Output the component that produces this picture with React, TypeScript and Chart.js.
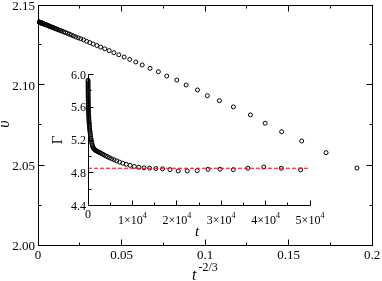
import React, { useEffect, useRef } from "react";
import { Chart, registerables } from "chart.js";
Chart.register(...registerables);

const W = 382;
const H = 281;
const SERIF = '"Liberation Serif", "DejaVu Serif", "Times New Roman", serif';

// ---- main panel: v versus t^(-2/3)
const mainX = [
  0.191, 0.1725, 0.1579, 0.1459, 0.136, 0.1272, 0.117, 0.1086, 0.1014, 0.0955, 0.0887, 0.0831, 0.0771, 0.0721, 0.0671, 0.0624,
  0.05856, 0.05495, 0.05157, 0.04839, 0.04541, 0.04262, 0.03999, 0.03753, 0.03522, 0.03305, 0.03102, 0.02911, 0.02731, 0.02563,
  0.02405, 0.02257, 0.02118, 0.01988, 0.01866, 0.01751, 0.01643, 0.01542, 0.01447, 0.01358, 0.01274, 0.01196, 0.01122, 0.01053,
  0.00988, 0.00927, 0.0087, 0.00817, 0.00766, 0.00719, 0.00675, 0.00633, 0.00594, 0.00558, 0.00523, 0.00491, 0.00461, 0.00432,
  0.00406, 0.00381, 0.00357, 0.00335, 0.00315, 0.00295, 0.00277, 0.0026, 0.00244, 0.00229, 0.00215, 0.00202, 0.00189, 0.00178,
  0.00167, 0.00156, 0.00147, 0.00138, 0.00129, 0.00121, 0.00114, 0.00107, 0.001, 0.00094, 0.00088, 0.00083, 0.00078,
];
const mainV = [
  2.0481, 2.0577, 2.065, 2.0708, 2.0761, 2.0813, 2.0863, 2.0902, 2.0933, 2.0969, 2.1, 2.1031, 2.1056, 2.1083, 2.1104, 2.1125,
  2.1144, 2.116, 2.1175, 2.1189, 2.1202, 2.1215, 2.1226, 2.1237, 2.1247, 2.1256, 2.1265, 2.1273, 2.1282, 2.1289,
  2.1295, 2.1301, 2.1307, 2.1313, 2.1318, 2.1323, 2.1328, 2.1332, 2.1336, 2.134, 2.1343, 2.1346, 2.135, 2.1352,
  2.1355, 2.1358, 2.136, 2.1362, 2.1364, 2.1366, 2.1368, 2.137, 2.1372, 2.1373, 2.1375, 2.1376, 2.1377, 2.1378,
  2.1379, 2.138, 2.1381, 2.1382, 2.1383, 2.1384, 2.1385, 2.1385, 2.1386, 2.1387, 2.1387, 2.1388, 2.1388, 2.1389,
  2.1389, 2.139, 2.139, 2.139, 2.1391, 2.1391, 2.1391, 2.1392, 2.1392, 2.1392, 2.1392, 2.1393, 2.1393,
];
const mainXTicks = [0, 0.05, 0.1, 0.15, 0.2];
const mainXTickLabels = ["0", "0.05", "0.1", "0.15", "0.2"];
const mainXMinor = [0.025, 0.075, 0.125, 0.175];
const mainYTicks = [2.0, 2.05, 2.1, 2.15];
const mainYTickLabels = ["2.00", "2.05", "2.10", "2.15"];
const mainYMinor = [2.025, 2.075, 2.125];
const mainYTitle = "υ";
const mainXTitleBase = "t";
const mainXTitleExp = "-2/3";

// ---- inset: Gamma versus t
const insetT = [
  12, 14, 16, 18, 20, 22, 25, 28, 31, 34, 38, 42, 47, 52, 57, 64,
  73, 81, 89, 98, 108, 118, 130, 143, 157, 173, 190, 209, 230, 253, 279, 307, 337, 371, 408, 449, 494,
  543, 597, 657, 723, 795, 875, 962, 1059, 1165, 1281, 1409, 1550, 1705, 1875, 2063, 2269, 2496, 2745, 3020,
  3322, 3654, 4019, 4421, 4864, 5350, 5885, 6473, 7121, 7833, 8616, 9478, 10425, 11467, 12614, 13876, 15263,
  16789, 18468, 20315, 22346, 24581, 27039, 29743, 32717, 35988, 39587, 43545, 47900,
];
const insetGamma = [
  5.93, 5.912, 5.894, 5.876, 5.858, 5.84, 5.822, 5.804, 5.786, 5.768, 5.75, 5.732, 5.714, 5.696, 5.678, 5.66,
  5.642, 5.624, 5.606, 5.588, 5.57, 5.552, 5.534, 5.516, 5.498, 5.48, 5.462, 5.444, 5.426, 5.408, 5.39, 5.372, 5.354, 5.336, 5.318, 5.3, 5.282,
  5.26, 5.24, 5.22, 5.2, 5.18, 5.16, 5.14, 5.12, 5.105, 5.095, 5.087, 5.08, 5.074, 5.068, 5.062, 5.056, 5.05, 5.043, 5.036,
  5.026, 5.016, 5.006, 4.995, 4.983, 4.97, 4.958, 4.945, 4.93, 4.916, 4.903, 4.89, 4.877, 4.867, 4.86, 4.856, 4.852,
  4.848, 4.838, 4.822, 4.823, 4.826, 4.842, 4.843, 4.838, 4.855, 4.87, 4.855, 4.835,
];
const fitT = [0, 50000];
const fitGamma = [4.855, 4.855];
const insetXTicks = [0, 10000, 20000, 30000, 40000, 50000];
const insetXLabelBase = ["0", "1×10", "2×10", "3×10", "4×10", "5×10"];
const insetXLabelExp = ["", "4", "4", "4", "4", "4"];
const insetXMinor = [5000, 15000, 25000, 35000, 45000];
const insetYTicks = [4.4, 4.8, 5.2, 5.6, 6.0];
const insetYTickLabels = ["4.4", "4.8", "5.2", "5.6", "6.0"];
const insetYMinor = [4.6, 5.0, 5.4, 5.8];
const insetXTitle = "t";
const insetYTitle = "Γ";

const sn = (v: number) => Math.floor(v) + 0.5;

const mainFrame = {
  id: "mainFrame",
  afterDatasetsDraw(chart: any) {
    const { ctx, chartArea: a } = chart;
    const xs = chart.scales.x;
    const ys = chart.scales.y;
    const L = sn(a.left), R = sn(a.right), T = sn(a.top), B = sn(a.bottom);
    ctx.save();
    ctx.strokeStyle = "#000";
    ctx.lineWidth = 1;
    ctx.strokeRect(L, T, R - L, B - T);
    ctx.beginPath();
    const tx = (v: number, len: number) => {
      const p = sn(xs.getPixelForValue(v));
      ctx.moveTo(p, B); ctx.lineTo(p, B - len);
      ctx.moveTo(p, T); ctx.lineTo(p, T + len);
    };
    const ty = (v: number, len: number) => {
      const p = sn(ys.getPixelForValue(v));
      ctx.moveTo(L, p); ctx.lineTo(L + len, p);
      ctx.moveTo(R, p); ctx.lineTo(R - len, p);
    };
    mainXTicks.forEach((v) => tx(v, 6));
    mainXMinor.forEach((v) => tx(v, 3));
    mainYTicks.forEach((v) => ty(v, 6));
    mainYMinor.forEach((v) => ty(v, 3));
    ctx.stroke();

    ctx.fillStyle = "#000";
    ctx.font = `13px ${SERIF}`;
    ctx.textBaseline = "alphabetic";
    ctx.textAlign = "center";
    mainXTicks.forEach((v, i) => ctx.fillText(mainXTickLabels[i], xs.getPixelForValue(v), a.bottom + 13.5));
    ctx.textAlign = "right";
    mainYTicks.forEach((v, i) => ctx.fillText(mainYTickLabels[i], a.left - 3, ys.getPixelForValue(v) + 4.5));

    // y title
    ctx.save();
    ctx.translate(5, 124);
    ctx.rotate(-Math.PI / 2);
    ctx.font = `italic 16px ${SERIF}`;
    ctx.textAlign = "center";
    ctx.textBaseline = "middle";
    ctx.fillText(mainYTitle, 0, 0);
    ctx.restore();

    // x title
    ctx.textAlign = "left";
    ctx.font = `italic 16px ${SERIF}`;
    ctx.fillText(mainXTitleBase, 192, 280);
    ctx.font = `12px ${SERIF}`;
    ctx.fillText(mainXTitleExp, 198.5, 271);
    ctx.restore();
  },
};

const insetFrame = {
  id: "insetFrame",
  afterDatasetsDraw(chart: any) {
    const { ctx, chartArea: a } = chart;
    const xs = chart.scales.x;
    const ys = chart.scales.y;
    const L = sn(a.left), R = sn(a.right), T = sn(a.top), B = sn(a.bottom);
    ctx.save();
    ctx.strokeStyle = "#000";
    ctx.lineWidth = 1;
    ctx.beginPath();
    ctx.moveTo(L, T); ctx.lineTo(L, B); ctx.lineTo(R, B);
    const tx = (v: number, len: number) => {
      const p = sn(xs.getPixelForValue(v));
      ctx.moveTo(p, B); ctx.lineTo(p, B - len);
    };
    const ty = (v: number, len: number) => {
      const p = sn(ys.getPixelForValue(v));
      ctx.moveTo(L, p); ctx.lineTo(L + len, p);
    };
    insetXTicks.forEach((v) => tx(v, 5));
    insetXMinor.forEach((v) => tx(v, 3));
    insetYTicks.forEach((v) => ty(v, 5));
    insetYMinor.forEach((v) => ty(v, 3));
    ctx.stroke();

    ctx.fillStyle = "#000";
    ctx.textBaseline = "alphabetic";
    ctx.font = `12px ${SERIF}`;
    ctx.textAlign = "right";
    insetYTicks.forEach((v, i) => ctx.fillText(insetYTickLabels[i], a.left - 2, ys.getPixelForValue(v) + 4));

    ctx.textAlign = "left";
    insetXTicks.forEach((v, i) => {
      const px = xs.getPixelForValue(v);
      const base = insetXLabelBase[i];
      const exp = insetXLabelExp[i];
      ctx.font = `12px ${SERIF}`;
      const bw = ctx.measureText(base).width;
      ctx.font = `8px ${SERIF}`;
      const ew = exp ? ctx.measureText(exp).width : 0;
      const x0 = px - (bw + ew) / 2;
      ctx.font = `12px ${SERIF}`;
      if (exp) {
        ctx.fillText(base, x0, a.bottom + 18);
        ctx.font = `8px ${SERIF}`;
        ctx.fillText(exp, x0 + bw, a.bottom + 12.5);
      } else {
        ctx.fillText(base, x0, a.bottom + 12);
      }
    });

    ctx.font = `italic 15px ${SERIF}`;
    ctx.textAlign = "center";
    ctx.fillText(insetXTitle, 197, 236);

    ctx.save();
    ctx.translate(58, 140);
    ctx.rotate(-Math.PI / 2);
    ctx.font = `15px ${SERIF}`;
    ctx.textAlign = "center";
    ctx.textBaseline = "middle";
    ctx.fillText(insetYTitle, 0, 0);
    ctx.restore();
    ctx.restore();
  },
};

export default function App() {
  const mainRef = useRef<HTMLCanvasElement>(null);
  const insetRef = useRef<HTMLCanvasElement>(null);

  useEffect(() => {
    const common = {
      responsive: false,
      animation: false as const,
      devicePixelRatio: 1,
      events: [] as any[],
      plugins: { legend: { display: false }, tooltip: { enabled: false } },
    };
    const main = new Chart(mainRef.current!, {
      type: "scatter",
      data: {
        datasets: [
          {
            data: mainX.map((x, i) => ({ x, y: mainV[i] })),
            pointRadius: 2,
            pointBorderWidth: 1,
            borderColor: "#000",
            pointBorderColor: "#000",
            pointBackgroundColor: "rgba(0,0,0,0)",
            backgroundColor: "rgba(0,0,0,0)",
            showLine: false,
            clip: false as any,
          },
        ],
      },
      options: {
        ...common,
        layout: { padding: { left: 38, top: 5, right: 10, bottom: 36 } },
        scales: {
          x: { type: "linear", min: 0, max: 0.2, display: false },
          y: { type: "linear", min: 2.0, max: 2.15, display: false },
        },
      },
      plugins: [mainFrame],
    } as any);

    const inset = new Chart(insetRef.current!, {
      type: "scatter",
      data: {
        datasets: [
          {
            type: "line",
            data: fitT.map((x, i) => ({ x, y: fitGamma[i] })),
            borderColor: "#ff0000",
            borderWidth: 1,
            borderDash: [4, 2],
            pointRadius: 0,
            fill: false,
            clip: false as any,
          },
          {
            data: insetT.map((x, i) => ({ x, y: insetGamma[i] })),
            pointRadius: 2,
            pointBorderWidth: 1,
            borderColor: "#000",
            pointBorderColor: "#000",
            pointBackgroundColor: "rgba(0,0,0,0)",
            backgroundColor: "rgba(0,0,0,0)",
            showLine: false,
            clip: false as any,
          },
        ],
      },
      options: {
        ...common,
        layout: { padding: { left: 88, top: 74.5, right: 72, bottom: 75.5 } },
        scales: {
          x: { type: "linear", min: 0, max: 50000, display: false },
          y: { type: "linear", min: 4.4, max: 6.0, display: false },
        },
      },
      plugins: [insetFrame],
    } as any);

    return () => {
      main.destroy();
      inset.destroy();
    };
  }, []);

  const cs: React.CSSProperties = { position: "absolute", left: 0, top: 0, width: W, height: H };
  return (
    <div style={{ position: "absolute", left: 0, top: 0, width: W, height: H, background: "#fff" }}>
      <canvas ref={mainRef} width={W} height={H} style={cs} />
      <canvas ref={insetRef} width={W} height={H} style={cs} />
    </div>
  );
}
